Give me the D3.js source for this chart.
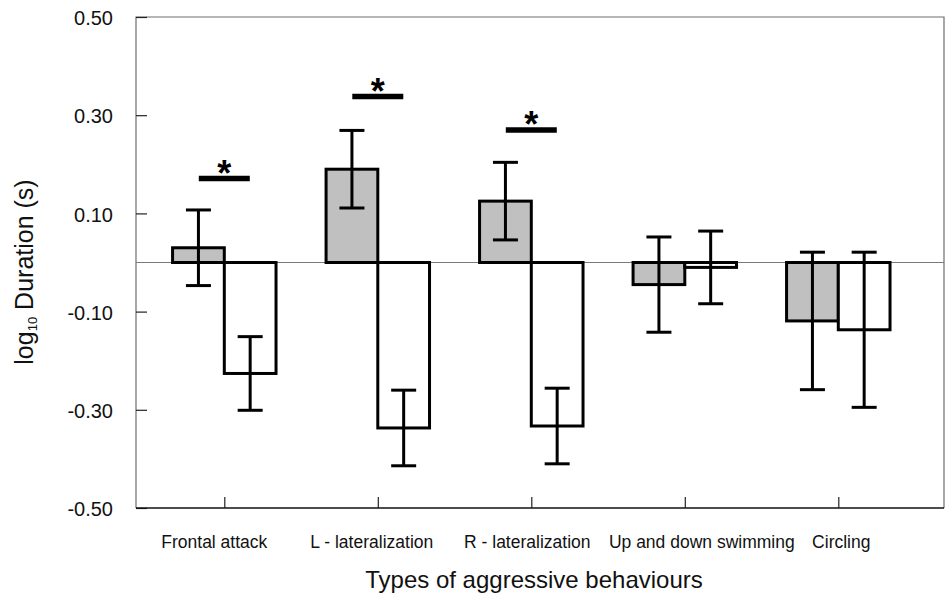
<!DOCTYPE html>
<html>
<head>
<meta charset="utf-8">
<script src="https://cdn.jsdelivr.net/npm/d3@7"></script>
<style>
    body { margin: 0; background: #fff; }
    svg { display: block; font-family: "Liberation Sans", Arial, sans-serif; }
</style>
</head>
<body>
<div id="chart"></div>
<script>

// values (log10 duration, mean and error)
const categories = ["Frontal attack", "L - lateralization", "R - lateralization", "Up and down swimming", "Circling"];
const greyMeans = [0.030, 0.190, 0.125, -0.045, -0.119];
const greyErr = [0.077, 0.079, 0.079, 0.097, 0.140];
const whiteMeans = [-0.226, -0.337, -0.333, -0.010, -0.137];
const whiteErr = [0.075, 0.077, 0.077, 0.074, 0.158];
const yTicks = [0.50, 0.30, 0.10, -0.10, -0.30, -0.50];
const sigCategories = ["Frontal attack", "L - lateralization", "R - lateralization"];
const sigLevels = [0.171, 0.338, 0.270];

const width = 946, height = 596;
const frame = {left: 136, right: 944, top: 17, bottom: 508};

// small nudges so the category labels sit as in the original
const labelShift = [-10, -6, -4, 17, 3];

let svg = d3.select("#chart").append("svg")
    .attr("width", width)
    .attr("height", height);

let y = d3.scaleLinear()
    .domain([-0.5, 0.5])
    .range([frame.bottom, frame.top]);

let x = d3.scalePoint()
    .domain(categories)
    .range([224.3, 838.3]);

let bw = x.step() * 0.337;

// frame
svg.append("path")
    .attr("d", `M${frame.left},${frame.bottom}V${frame.top}H${frame.right}V${frame.bottom}`)
    .attr("fill", "none")
    .attr("stroke", "#6e6e6e")
    .attr("stroke-width", 1.2);

// zero line
svg.append("line")
    .attr("x1", frame.left).attr("x2", frame.right)
    .attr("y1", y(0)).attr("y2", y(0))
    .attr("stroke", "#7a7a7a")
    .attr("stroke-width", 1.2);

// y axis (ticks pointing inward)
let fmt = d3.format(".2f");
let yAxis = d3.axisLeft(y)
    .tickValues(yTicks)
    .tickSize(-11)
    .tickPadding(23)
    .tickFormat(d => fmt(d).replace("−", "-"));

let gy = svg.append("g")
    .attr("transform", `translate(${frame.left},0)`)
    .call(yAxis);
gy.select(".domain").remove();
gy.selectAll(".tick line").attr("stroke", "#222").attr("stroke-width", 1.2);
gy.selectAll(".tick text")
    .attr("font-size", 20)
    .attr("fill", "#111")
    .attr("font-family", "Liberation Sans, Arial, sans-serif")
    .attr("dy", "0.38em");

// x axis
let xAxis = d3.axisBottom(x)
    .tickSize(-11)
    .tickPadding(0)
    .tickFormat("");

let gx = svg.append("g")
    .attr("transform", `translate(0,${frame.bottom})`)
    .call(xAxis);
gx.select(".domain")
    .attr("d", `M${frame.left},0H${frame.right}`)
    .attr("stroke", "#111")
    .attr("stroke-width", 1.4);
gx.selectAll(".tick line").attr("stroke", "#222").attr("stroke-width", 1.2);

svg.append("g").selectAll("text")
    .data(categories)
    .join("text")
    .attr("x", (d, i) => x(d) + labelShift[i])
    .attr("y", 547.5)
    .attr("text-anchor", "middle")
    .attr("font-size", 17.5)
    .attr("fill", "#111")
    .text(d => d);

// bars
let series = [
    {means: greyMeans, err: greyErr, fill: "#bfc0bf", off: -bw / 2},
    {means: whiteMeans, err: whiteErr, fill: "#ffffff", off: bw / 2}
];

series.forEach(s => {
    let rows = categories.map((c, i) => ({c: c, m: s.means[i], e: s.err[i]}));

    svg.append("g").selectAll("rect")
        .data(rows)
        .join("rect")
        .attr("x", d => x(d.c) + s.off - bw / 2)
        .attr("width", bw)
        .attr("y", d => Math.min(y(d.m), y(0)))
        .attr("height", d => Math.abs(y(d.m) - y(0)))
        .attr("fill", s.fill)
        .attr("stroke", "#000")
        .attr("stroke-width", 3);

    let eb = svg.append("g")
        .attr("stroke", "#000")
        .attr("stroke-width", 3)
        .selectAll("g")
        .data(rows)
        .join("g")
        .attr("transform", d => `translate(${x(d.c) + s.off},0)`);

    eb.append("line")
        .attr("y1", d => y(d.m + d.e))
        .attr("y2", d => y(d.m - d.e));
    eb.append("line")
        .attr("x1", -12.5).attr("x2", 12.5)
        .attr("y1", d => y(d.m + d.e))
        .attr("y2", d => y(d.m + d.e));
    eb.append("line")
        .attr("x1", -12.5).attr("x2", 12.5)
        .attr("y1", d => y(d.m - d.e))
        .attr("y2", d => y(d.m - d.e));
});

// significance marks
let sig = svg.append("g").selectAll("g")
    .data(sigCategories.map((c, i) => ({c: c, v: sigLevels[i]})))
    .join("g")
    .attr("transform", d => `translate(${x(d.c)},${y(d.v)})`);

sig.append("line")
    .attr("x1", -25.5).attr("x2", 25.5)
    .attr("stroke", "#000")
    .attr("stroke-width", 5.5);

sig.append("text")
    .attr("y", 7)
    .attr("text-anchor", "middle")
    .attr("font-size", 36)
    .attr("font-weight", "bold")
    .text("*");

// axis titles
svg.append("text")
    .attr("x", 534)
    .attr("y", 588)
    .attr("text-anchor", "middle")
    .attr("font-size", 24)
    .attr("fill", "#111")
    .text("Types of aggressive behaviours");

let yt = svg.append("text")
    .attr("transform", `translate(33,272) rotate(-90)`)
    .attr("text-anchor", "middle")
    .attr("font-size", 25)
    .attr("fill", "#111");
yt.append("tspan").text("log");
yt.append("tspan").attr("font-size", 13).attr("dy", 4).text("10");
yt.append("tspan").attr("dy", -4).text(" Duration (s)");

</script>
</body>
</html>
